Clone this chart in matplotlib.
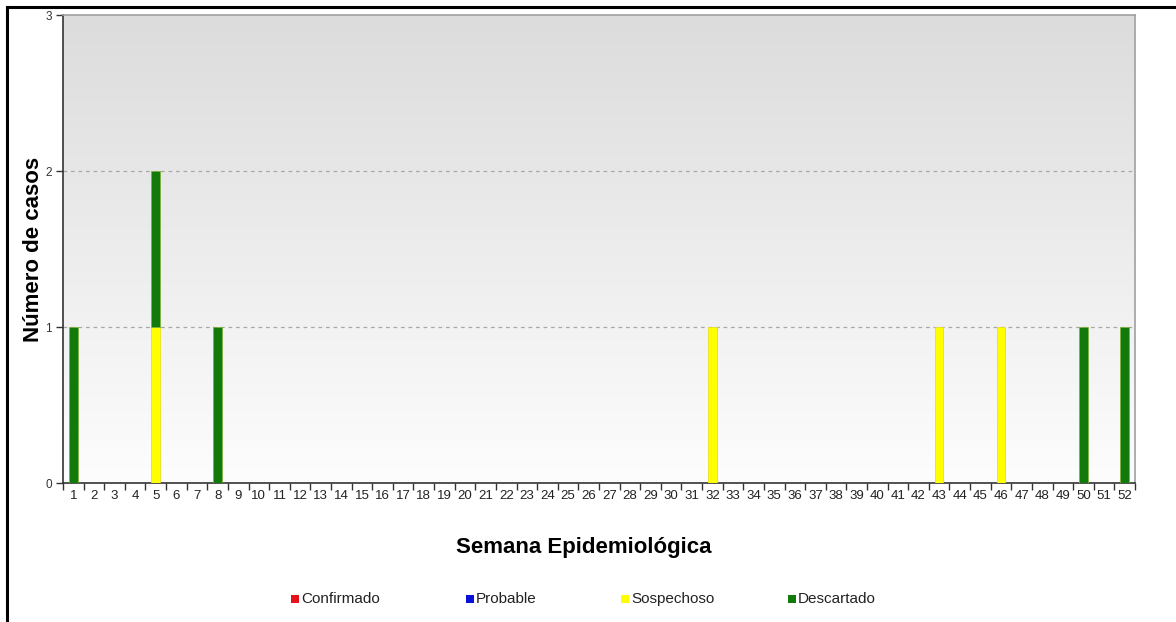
import numpy as np
import matplotlib
matplotlib.use("Agg")
import matplotlib.pyplot as plt
from matplotlib.patches import Rectangle
from matplotlib.lines import Line2D

plt.rcParams['font.family'] = ['Liberation Sans', 'DejaVu Sans']

weeks = list(range(1, 53))
series_names = ["Confirmado", "Probable", "Sospechoso", "Descartado"]
series_colors = ["#e8101a", "#0a10d8", "#ffff00", "#127a0a"]
edge_colors = ["#f06060", "#5050f0", "#e8e020", "#7fb040"]

confirmado = [0] * 52
probable = [0] * 52
sospechoso_weeks = [5, 32, 43, 46]
sospechoso_vals = [1, 1, 1, 1]
descartado_weeks = [1, 5, 8, 50, 52]
descartado_vals = [1, 1, 1, 1, 1]

sospechoso = [0] * 52
for w, v in zip(sospechoso_weeks, sospechoso_vals):
    sospechoso[w - 1] = v
descartado = [0] * 52
for w, v in zip(descartado_weeks, descartado_vals):
    descartado[w - 1] = v

data = [confirmado, probable, sospechoso, descartado]

W, H = 1176, 622
fig = plt.figure(figsize=(W / 100, H / 100), dpi=100)
fig.patch.set_facecolor("white")

left, right, top, bottom = 63, 1135, 15, 483
ax = fig.add_axes([left / W, 1 - bottom / H, (right - left) / W, (bottom - top) / H])

# gradient background
grad = np.linspace(0, 1, 256).reshape(-1, 1)
cmap = matplotlib.colors.LinearSegmentedColormap.from_list("g", ["#dcdcdc", "#fdfdfd"])
ax.imshow(grad, extent=[0.5, 52.5, 0, 3], origin="upper", aspect="auto", cmap=cmap, zorder=0)
ax.set_xlim(0.5, 52.5)
ax.set_ylim(0, 3)

for yv in [1, 2]:
    ax.axhline(yv, color="#a8a8a8", linestyle=(0, (3, 3)), linewidth=0.9, zorder=1)

x = np.array(weeks)
bottom_vals = np.zeros(52)
for name, vals, c, ec in zip(series_names, data, series_colors, edge_colors):
    v = np.array(vals, dtype=float)
    mask = v > 0
    if mask.any():
        ax.bar(x[mask], v[mask], width=0.42, bottom=bottom_vals[mask], color=c,
               edgecolor=ec, linewidth=0.6, zorder=3)
    bottom_vals += v

ax.set_xticks(np.arange(0.5, 53.5, 1))
ax.set_xticklabels([])
ax.set_xticks(x, minor=True)
ax.set_xticklabels([str(w) for w in weeks], minor=True, fontsize=9.5, color="#222222")
ax.tick_params(axis="x", which="major", direction="out", length=5, width=1, color="#333333")
ax.tick_params(axis="x", which="minor", length=0, pad=5)
ax.set_yticks([0, 1, 2, 3])
ax.set_yticklabels(["0", "1", "2", "3"], fontsize=8.5, color="#333333")
ax.tick_params(axis="y", direction="out", length=5, width=1, color="#333333", pad=3)

for s in ["left", "bottom"]:
    ax.spines[s].set_color("#333333")
    ax.spines[s].set_linewidth(1.2)
for s in ["top", "right"]:
    ax.spines[s].set_color("#a0a0a0")
    ax.spines[s].set_linewidth(1.2)

fig.text(34 / W, 1 - 249 / H, "Número de casos", rotation=90, ha="center", va="center",
         fontsize=16, fontweight="bold")
fig.text(584 / W, 1 - 548 / H, "Semana Epidemiológica", ha="center", va="center",
         fontsize=16, fontweight="bold")

# legend
legend_x = [295, 470, 625, 792]
ly = 599
for name, c, lx in zip(series_names, series_colors, legend_x):
    fig.patches.append(Rectangle(((lx - 4) / W, 1 - (ly + 4) / H), 8 / W, 8 / H,
                                 transform=fig.transFigure, facecolor=c, edgecolor="none"))
    fig.text((lx + 6) / W, 1 - ly / H, name, ha="left", va="center", fontsize=11, color="#222222")

# outer frame (partial)
fig.lines.append(Line2D([7 / W, 1], [1 - 6.5 / H, 1 - 6.5 / H], transform=fig.transFigure,
                        color="black", linewidth=2.2))
fig.lines.append(Line2D([7 / W, 7 / W], [0, 1 - 6.5 / H], transform=fig.transFigure,
                        color="black", linewidth=2.2))

fig.savefig("out.png", dpi=100)
